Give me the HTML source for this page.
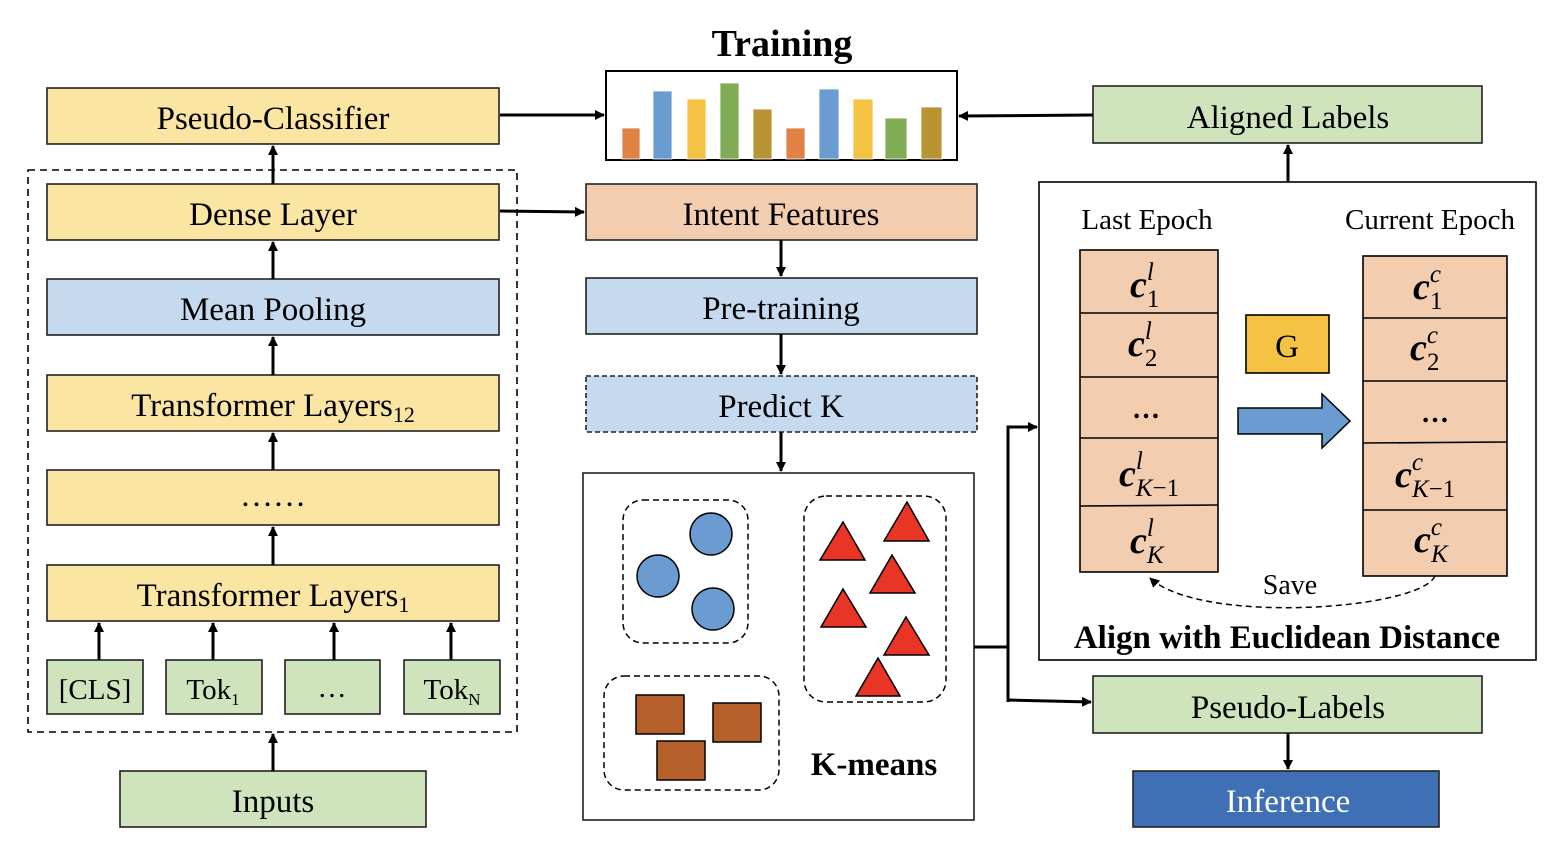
<!DOCTYPE html>
<html><head><meta charset="utf-8"><style>
html,body{margin:0;padding:0;background:#fff}
svg{display:block}
text{font-family:"Liberation Serif",serif;fill:#000}
</style></head><body>
<svg width="1564" height="848" viewBox="0 0 1564 848" xmlns="http://www.w3.org/2000/svg">
<defs>
<marker id="ah" markerWidth="10" markerHeight="10" refX="9" refY="5" orient="auto" markerUnits="userSpaceOnUse"><path d="M0,0 L10,5 L0,10 z" fill="#000"/></marker>
</defs>
<g stroke="#222" stroke-width="1.6">
<rect x="28" y="170" width="489" height="562" fill="none" stroke="#000" stroke-dasharray="7,5"/>
<rect x="47" y="88" width="452" height="56" fill="#fbe5a2"/>
<rect x="47" y="184" width="452" height="56" fill="#fbe5a2"/>
<rect x="47" y="279" width="452" height="56" fill="#c5d9ef"/>
<rect x="47" y="375" width="452" height="56" fill="#fbe5a2"/>
<rect x="47" y="470" width="452" height="55" fill="#fbe5a2"/>
<rect x="47" y="565" width="452" height="56" fill="#fbe5a2"/>
<rect x="47" y="660" width="96" height="54" fill="#cfe3bd"/>
<rect x="166" y="660" width="96" height="54" fill="#cfe3bd"/>
<rect x="285" y="660" width="95" height="54" fill="#cfe3bd"/>
<rect x="404" y="660" width="96" height="54" fill="#cfe3bd"/>
<rect x="120" y="771" width="306" height="56" fill="#cfe3bd"/>
<rect x="606" y="71" width="351" height="89" fill="#fff" stroke="#000" stroke-width="2"/>
<rect x="586" y="184" width="391" height="56" fill="#f2cdb0"/>
<rect x="586" y="278" width="391" height="56" fill="#c5d9ef"/>
<rect x="586" y="376" width="391" height="56" fill="#c5d9ef" stroke-dasharray="5,3"/>
<rect x="583" y="473" width="391" height="347" fill="#fff"/>
<rect x="1093" y="86" width="389" height="57" fill="#cfe3bd"/>
<rect x="1039" y="182" width="497" height="478" fill="#fff" stroke="#000"/>
<rect x="1093" y="676" width="389" height="57" fill="#cfe3bd"/>
<rect x="1133" y="771" width="306" height="56" fill="#3f70b5"/>
<rect x="1080" y="250" width="138" height="322" fill="#f2cdb0" stroke="#000"/>
<rect x="1363" y="256" width="144" height="320" fill="#f2cdb0" stroke="#000"/>
<rect x="1246" y="315" width="83" height="58" fill="#f5c343" stroke="#000"/>
</g>
<g stroke="#000" stroke-width="1.6">
<line x1="1080" y1="313" x2="1218" y2="313"/><line x1="1080" y1="377" x2="1218" y2="377"/><line x1="1080" y1="438" x2="1218" y2="438"/><line x1="1080" y1="506" x2="1218" y2="505"/>
<line x1="1363" y1="318" x2="1507" y2="318"/><line x1="1363" y1="381" x2="1507" y2="381"/><line x1="1363" y1="443" x2="1507" y2="442"/><line x1="1363" y1="510" x2="1507" y2="510"/>
</g>
<path d="M1238,408 L1322,408 L1322,394 L1350,421 L1322,448 L1322,434 L1238,434 z" fill="#6a9bd1" stroke="#000" stroke-width="1.5"/>
<path d="M1435,576 C1420,610 1200,625 1150,578" fill="none" stroke="#000" stroke-width="1.5" stroke-dasharray="6,4" marker-end="url(#ah)"/>
<g stroke="#fff" stroke-width="0.8">
<rect x="622" y="128" width="18" height="31" fill="#df8244"/>
<rect x="653" y="91" width="19" height="68" fill="#6a9bd1"/>
<rect x="687" y="99" width="19" height="60" fill="#f4c343"/>
<rect x="720" y="83" width="19" height="76" fill="#7fac55"/>
<rect x="753" y="109" width="19" height="50" fill="#b89433"/>
<rect x="786" y="128" width="19" height="31" fill="#df8244"/>
<rect x="819" y="89" width="20" height="70" fill="#6a9bd1"/>
<rect x="853" y="99" width="20" height="60" fill="#f4c343"/>
<rect x="885" y="118" width="22" height="41" fill="#7fac55"/>
<rect x="921" y="107" width="21" height="52" fill="#b89433"/>
</g>
<g fill="none" stroke="#000" stroke-width="1.5" stroke-dasharray="6,4">
<rect x="623" y="500" width="125" height="143" rx="20"/>
<rect x="804" y="496" width="142" height="206" rx="22"/>
<rect x="604" y="676" width="175" height="114" rx="20"/>
</g>
<g fill="#6a9bd1" stroke="#000" stroke-width="1.5">
<circle cx="711" cy="534" r="21"/><circle cx="658" cy="576" r="21"/><circle cx="713" cy="609" r="21"/>
</g>
<g fill="#e83526" stroke="#000" stroke-width="1.5">
<polygon points="843,522 865,560 820,560"/><polygon points="907,502 929,541 884,541"/>
<polygon points="892,555 915,593 870,593"/><polygon points="843,589 866,627 821,627"/>
<polygon points="906,617 929,655 884,655"/><polygon points="878,658 900,696 856,696"/>
</g>
<g fill="#b5602a" stroke="#000" stroke-width="1.5">
<rect x="636" y="695" width="48" height="39"/><rect x="713" y="703" width="48" height="39"/><rect x="657" y="741" width="48" height="39"/>
</g>
<g stroke="#000" stroke-width="3" fill="none">
<line x1="273" y1="184" x2="273" y2="146" marker-end="url(#ah)"/>
<line x1="273" y1="279" x2="273" y2="242" marker-end="url(#ah)"/>
<line x1="273" y1="375" x2="273" y2="337" marker-end="url(#ah)"/>
<line x1="273" y1="470" x2="273" y2="433" marker-end="url(#ah)"/>
<line x1="273" y1="565" x2="273" y2="527" marker-end="url(#ah)"/>
<line x1="99" y1="660" x2="99" y2="623" marker-end="url(#ah)"/>
<line x1="213" y1="660" x2="213" y2="623" marker-end="url(#ah)"/>
<line x1="334" y1="660" x2="334" y2="623" marker-end="url(#ah)"/>
<line x1="451" y1="660" x2="451" y2="623" marker-end="url(#ah)"/>
<line x1="273" y1="771" x2="273" y2="734" marker-end="url(#ah)"/>
<line x1="500" y1="115" x2="604" y2="115" marker-end="url(#ah)"/>
<line x1="1093" y1="115" x2="959" y2="116" marker-end="url(#ah)"/>
<line x1="500" y1="211" x2="584" y2="212" marker-end="url(#ah)"/>
<line x1="781" y1="240" x2="781" y2="276" marker-end="url(#ah)"/>
<line x1="781" y1="334" x2="781" y2="374" marker-end="url(#ah)"/>
<line x1="781" y1="432" x2="781" y2="471" marker-end="url(#ah)"/>
<line x1="1288" y1="182" x2="1288" y2="145" marker-end="url(#ah)"/>
<line x1="1288" y1="733" x2="1288" y2="769" marker-end="url(#ah)"/>
<polyline points="974,647 1008,647"/>
<polyline points="1008,702 1008,427 1037,427" marker-end="url(#ah)"/>
<polyline points="1008,700 1091,702" marker-end="url(#ah)"/>
</g>
<g font-size="33" text-anchor="middle">
<text x="782" y="56" font-weight="bold" font-size="38">Training</text>
<text x="273" y="129">Pseudo-Classifier</text>
<text x="273" y="225">Dense Layer</text>
<text x="273" y="320">Mean Pooling</text>
<text x="273" y="416">Transformer Layers<tspan font-size="22" dy="6">12</tspan></text>
<text x="273" y="506">……</text>
<text x="273" y="606">Transformer Layers<tspan font-size="22" dy="6">1</tspan></text>
<text x="95" y="699" font-size="29">[CLS]</text>
<text x="213" y="699" font-size="29">Tok<tspan font-size="17" dy="6">1</tspan></text>
<text x="332" y="697" font-size="29">…</text>
<text x="452" y="699" font-size="29">Tok<tspan font-size="17" dy="6">N</tspan></text>
<text x="273" y="812">Inputs</text>
<text x="781" y="225">Intent Features</text>
<text x="781" y="319">Pre-training</text>
<text x="781" y="417">Predict K</text>
<text x="874" y="775" font-weight="bold">K-means</text>
<text x="1288" y="128">Aligned Labels</text>
<text x="1288" y="718">Pseudo-Labels</text>
<text x="1288" y="812" style="fill:#fff">Inference</text>
<text x="1147" y="229" font-size="29">Last Epoch</text>
<text x="1430" y="229" font-size="29">Current Epoch</text>
<text x="1287" y="357">G</text>
<text x="1290" y="594" font-size="28">Save</text>
<text x="1287" y="648" font-weight="bold" font-size="33">Align with Euclidean Distance</text>
</g>
<g font-size="38" font-style="italic" font-weight="bold">
<text x="1130" y="297">c<tspan font-size="25" dy="-17" font-weight="normal">l</tspan><tspan font-size="25" dx="-7" dy="27" font-style="normal" font-weight="normal">1</tspan></text>
<text x="1128" y="356">c<tspan font-size="25" dy="-17" font-weight="normal">l</tspan><tspan font-size="25" dx="-7" dy="27" font-style="normal" font-weight="normal">2</tspan></text>
<text x="1119" y="486">c<tspan font-size="25" dy="-17" font-weight="normal">l</tspan><tspan font-size="25" dx="-7" dy="27" font-weight="normal">K<tspan font-style="normal">−1</tspan></tspan></text>
<text x="1130" y="553">c<tspan font-size="25" dy="-17" font-weight="normal">l</tspan><tspan font-size="25" dx="-7" dy="27" font-weight="normal">K</tspan></text>
<text x="1413" y="299">c<tspan font-size="25" dy="-17" font-weight="normal">c</tspan><tspan font-size="25" dx="-11" dy="27" font-style="normal" font-weight="normal">1</tspan></text>
<text x="1410" y="360">c<tspan font-size="25" dy="-17" font-weight="normal">c</tspan><tspan font-size="25" dx="-11" dy="27" font-style="normal" font-weight="normal">2</tspan></text>
<text x="1395" y="487">c<tspan font-size="25" dy="-17" font-weight="normal">c</tspan><tspan font-size="25" dx="-11" dy="27" font-weight="normal">K<tspan font-style="normal">−1</tspan></tspan></text>
<text x="1414" y="552">c<tspan font-size="25" dy="-17" font-weight="normal">c</tspan><tspan font-size="25" dx="-11" dy="27" font-weight="normal">K</tspan></text>
</g>
<text x="1146" y="418" font-size="28" font-weight="bold" text-anchor="middle">…</text>
<text x="1435" y="422" font-size="28" font-weight="bold" text-anchor="middle">…</text>
</svg>
</body></html>
